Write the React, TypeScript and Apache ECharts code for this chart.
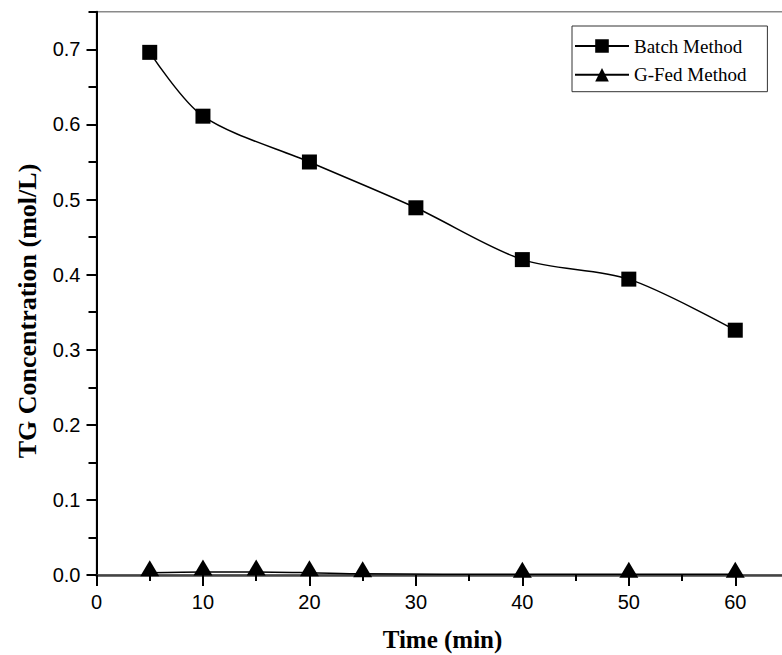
import React, { useEffect, useRef } from "react";
import * as echarts from "echarts";

const timeBatch = [5, 10, 20, 30, 40, 50, 60];
const batchValues = [0.696, 0.611, 0.55, 0.489, 0.42, 0.394, 0.326];
const timeGFed = [5, 10, 15, 20, 25, 40, 50, 60];
const gfedValues = [0.003, 0.004, 0.004, 0.003, 0.0015, 0.001, 0.001, 0.001];
const xTickLabels = ["0", "10", "20", "30", "40", "50", "60"];
const yTickLabels = ["0.0", "0.1", "0.2", "0.3", "0.4", "0.5", "0.6", "0.7"];

const serif = '"Liberation Serif", "Times New Roman", serif';
const sans = '"Liberation Sans", Arial, sans-serif';

export default function App() {
  const ref = useRef<HTMLDivElement>(null);
  useEffect(() => {
    if (!ref.current) return;
    const chart = echarts.init(ref.current, undefined, { renderer: "svg" });
    const option: any = {
      animation: false,
      backgroundColor: "#fff",
      grid: {
        left: 96.5,
        top: 11.8,
        width: 692,
        height: 563.2,
        show: true,
        borderColor: "#8a8a8a",
        borderWidth: 1.5,
        containLabel: false,
        outerBoundsMode: "none",
      },
      legend: {
        left: 572,
        top: 26,
        orient: "vertical",
        itemWidth: 54,
        itemHeight: 17,
        itemGap: 9.7,
        padding: [10.5, 21, 7.5, 2],
        borderColor: "#333",
        borderWidth: 1,
        backgroundColor: "#fff",
        textStyle: { fontFamily: serif, fontSize: 19, color: "#000" },
        data: ["Batch Method", "G-Fed Method"],
      },
      xAxis: [
        {
          type: "value",
          min: 0,
          max: 65,
          interval: 10,
          position: "bottom",
          name: "Time (min)",
          nameLocation: "middle",
          nameGap: 52,
          nameTextStyle: { fontFamily: serif, fontSize: 25, fontWeight: "bold", color: "#000" },
          axisLine: { show: true, onZero: false, lineStyle: { color: "#444", width: 2.5 } },
          axisTick: { show: true, inside: false, length: 11, lineStyle: { color: "#000", width: 2 } },
          axisLabel: {
            margin: 17,
            fontFamily: sans,
            fontSize: 20,
            color: "#000",
            formatter: (v: number) => {
              const i = Math.round(v / 10);
              return Math.abs(v - i * 10) < 1e-6 && xTickLabels[i] !== undefined ? xTickLabels[i] : "";
            },
          },
          splitLine: { show: false },
        },
        {
          type: "value",
          min: 0,
          max: 65,
          interval: 5,
          position: "bottom",
          axisLine: { show: false, onZero: false },
          axisTick: { show: true, inside: false, length: 6, lineStyle: { color: "#000", width: 2 } },
          axisLabel: { show: false },
          splitLine: { show: false },
        },
      ],
      yAxis: [
        {
          type: "value",
          min: 0,
          max: 0.75,
          interval: 0.1,
          position: "left",
          axisLine: { show: true, onZero: false, lineStyle: { color: "#000", width: 2 } },
          axisTick: { show: true, inside: false, length: 10, lineStyle: { color: "#000", width: 2 } },
          axisLabel: {
            margin: 16,
            fontFamily: sans,
            fontSize: 20,
            color: "#000",
            showMaxLabel: false,
            formatter: (v: number) => {
              const i = Math.round(v * 10);
              return Math.abs(v * 10 - i) < 1e-6 && yTickLabels[i] !== undefined ? yTickLabels[i] : "";
            },
          },
          splitLine: { show: false },
        },
        {
          type: "value",
          min: 0,
          max: 0.75,
          interval: 0.05,
          position: "left",
          axisLine: { show: false, onZero: false },
          axisTick: { show: true, inside: false, length: 8, lineStyle: { color: "#000", width: 2 } },
          axisLabel: { show: false },
          splitLine: { show: false },
        },
      ],
      graphic: [
        {
          type: "text",
          x: 27.5,
          y: 311,
          rotation: Math.PI / 2,
          style: {
            text: "TG Concentration (mol/L)",
            font: `bold 26px ${serif}`,
            fill: "#000",
            align: "center",
            verticalAlign: "middle",
            textAlign: "center",
            textVerticalAlign: "middle",
          },
        },
      ],
      series: [
        {
          name: "Batch Method",
          type: "line",
          xAxisIndex: 0,
          yAxisIndex: 0,
          data: timeBatch.map((t, i) => [t, batchValues[i]]),
          smooth: 0.3,
          symbol: "rect",
          symbolSize: 15,
          clip: false,
          itemStyle: { color: "#000" },
          lineStyle: { color: "#000", width: 1.5 },
          z: 3,
        },
        {
          name: "G-Fed Method",
          type: "line",
          xAxisIndex: 0,
          yAxisIndex: 0,
          data: timeGFed.map((t, i) => [t, gfedValues[i]]),
          smooth: 0.3,
          symbol: "triangle",
          symbolSize: [19, 16],
          symbolOffset: [0, -4.5],
          clip: false,
          itemStyle: { color: "#000" },
          lineStyle: { color: "#000", width: 1.5 },
          z: 3,
        },
      ],
    };
    chart.setOption(option);
    return () => chart.dispose();
  }, []);
  return (
    <div
      ref={ref}
      style={{ position: "fixed", left: 0, top: 0, width: 782, height: 655, background: "#fff" }}
    />
  );
}
